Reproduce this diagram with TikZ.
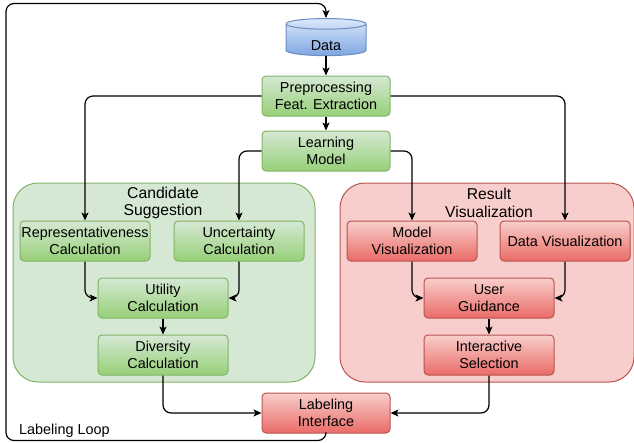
\documentclass[tikz,border=0pt]{standalone}
\usepackage{fontspec}
\setmainfont{Liberation Sans}
\usepackage{tikz}
\usetikzlibrary{shapes.geometric, arrows.meta}
\definecolor{greenlight}{HTML}{D5E8D4}
\definecolor{greendark}{HTML}{97D077}
\definecolor{greenline}{HTML}{82B366}
\definecolor{redlight}{HTML}{F8CECC}
\definecolor{reddark}{HTML}{EA6B66}
\definecolor{redline}{HTML}{B85450}
\definecolor{bluelight}{HTML}{DAE8FC}
\definecolor{bluedark}{HTML}{7EA6E0}
\definecolor{blueline}{HTML}{6C8EBF}
\newcommand*{\h}{40}
\newcommand*{\bw}{130}

\begin{document}
\begin{tikzpicture}[
   x=1pt, y=-1pt,
   font=\fontsize{14.4}{17}\selectfont,
   greenbox/.style={rectangle, draw=greenline, top color=greenlight, bottom color=greendark,
                    line width=1, rounded corners=4, align=center, text=black,
                    inner sep=1, minimum height=\h, minimum width=\bw},
   redbox/.style={rectangle, draw=redline, top color=redlight, bottom color=reddark,
                  line width=1, rounded corners=4, align=center, text=black,
                  inner sep=1, minimum height=\h, minimum width=\bw},
   datacyl/.style={cylinder, shape border rotate=90, aspect=0.35, draw=blueline,
                   top color=bluelight, bottom color=bluedark, line width=1, text=black,
                   inner sep=0, text height=20.5, minimum width=80, minimum height=33},
   greengroup/.style={rectangle, draw=greenline, fill=greenlight, line width=1,
                      rounded corners=25},
   redgroup/.style={rectangle, draw=redline, fill=redlight, line width=1,
                    rounded corners=25},
   title/.style={align=center, text=black, inner sep=0, font=\fontsize{15.7}{17.5}\selectfont}
  ]

  \useasboundingbox (0, 0) rectangle (634, 442);

  % Groups
  \node (cand) at (164, 282.5) [greengroup, minimum width=302, minimum height=199] {};
  \node (res) at (487, 282.5) [redgroup, minimum width=294, minimum height=199] {};
  \node (candtitle) at (163, 203) [title] {Candidate\\Suggestion};
  \node (restitle) at (489, 203) [title] {Result\\Visualization};

  % Pipeline
  \node (data) at (326, 40) [datacyl] {Data};
  \node (prep) at (326, 96) [greenbox, minimum width=128] {Preprocessing\\Feat. Extraction};
  \node (learn) at (326, 151) [greenbox, minimum width=128] {Learning\\Model};

  \node (repr) at (85, 241) [greenbox] {Representativeness\\Calculation};
  \node (unc) at (239, 241) [greenbox] {Uncertainty\\Calculation};
  \node (util) at (163, 298) [greenbox] {Utility\\Calculation};
  \node (div) at (163, 355) [greenbox] {Diversity\\Calculation};

  \node (modvis) at (412, 241) [redbox] {Model\\Visualization};
  \node (datavis) at (565, 241) [redbox] {Data Visualization};
  \node (guide) at (489, 298) [redbox] {User\\Guidance};
  \node (inter) at (489, 355) [redbox] {Interactive\\Selection};

  \node (lab) at (326, 413) [redbox, minimum width=128] {Labeling\\Interface};

  % Loop
  \coordinate (loopbl) at (6, 440.5);
  \coordinate (looptl) at (6, 3.5);
  \node (looplab) at (19, 434) [anchor=base west, inner sep=0, text=black] {Labeling Loop};

  \foreach \B/\E in {data/prep, prep/learn, util/div, guide/inter} {
    \draw[-{Stealth[length=8pt, width=7pt, inset=2pt]}, line width=1.2] (\B) -- (\E);
  }
  \foreach \B/\E in {prep/repr, prep/datavis, learn/unc, learn/modvis} {
    \draw[-{Stealth[length=8pt, width=7pt, inset=2pt]}, line width=1.2, rounded corners=8] (\B) -| (\E);
  }
  \foreach \B/\E in {repr/util, unc/util, modvis/guide, datavis/guide, div/lab, inter/lab} {
    \draw[-{Stealth[length=8pt, width=7pt, inset=2pt]}, line width=1.2, rounded corners=8] (\B) |- (\E);
  }
  \draw[-{Stealth[length=8pt, width=7pt, inset=2pt]}, line width=1.2, rounded corners=8]
    (lab) |- (loopbl) -- (looptl) -| (data);

\end{tikzpicture}
\end{document}
